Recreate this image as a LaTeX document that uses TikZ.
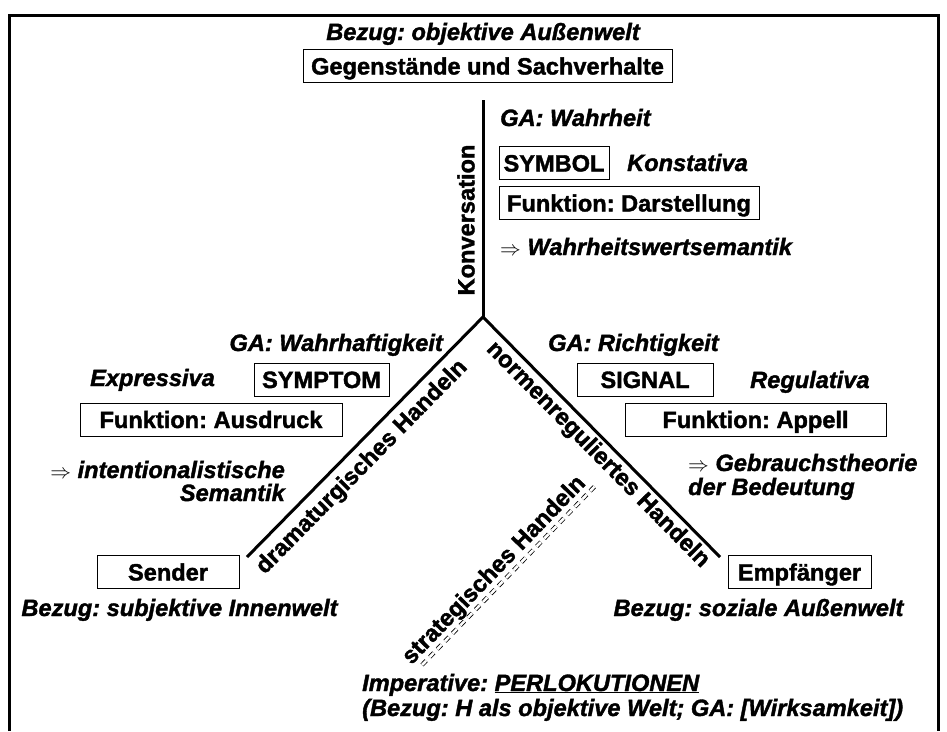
\documentclass[tikz,border=0pt]{standalone}
\usepackage{fontspec}
\setmainfont{Liberation Sans}[BoldFeatures={FakeBold=1.6},BoldItalicFeatures={FakeBold=1.6}]
\frenchspacing
\newcommand{\impl}{{\fontsize{22}{24}\selectfont$\Rightarrow$}}
\tikzset{
  txt/.style={inner sep=0pt, font=\fontsize{23.6}{26}\selectfont\bfseries\itshape},
  upr/.style={inner sep=0pt, font=\fontsize{23.6}{26}\selectfont\bfseries},
  box/.style={draw, line width=0.9pt, inner sep=0pt,
    font=\fontsize{23.6}{26}\selectfont\bfseries,
    text height=17pt, text depth=0pt, minimum height=33pt},
  heavy/.style={line width=3pt},
  along/.style={upr, sloped, inner sep=2pt},
  strichel/.style={line width=0.8pt, double, double distance=2.6pt,
    dash pattern=on 6pt off 5pt},
}
\begin{document}
\begin{tikzpicture}[x=1pt,y=-1pt]
\useasboundingbox (0,0) rectangle (947,731);
\fill[white] (0,0) rectangle (947,731);

% frame
\draw[heavy, line join=miter] (9,731) -- (9,15) -- (938,15) -- (938,731);

% the three axes of communicative action
\coordinate (top) at (483,100);
\coordinate (hub) at (483,317);
\coordinate (sendend) at (247,557);
\coordinate (empfend) at (720,557);
\draw[heavy] (top) -- (hub);
\draw[heavy, line join=miter] (sendend) -- (hub) -- (empfend);
\path (sendend) -- node[along, below, pos=0.43, inner sep=8pt] (dram) {dramaturgisches Handeln} (hub);
\path (hub) -- node[along, below, pos=0.53, inner sep=4pt] (norm) {normenreguliertes Handeln} (empfend);
\node[upr, rotate=90] (konv) at (466,220) {Konversation};

% strategic action (dashed)
\coordinate (s1) at (422,665);
\coordinate (s2) at (597,484);
\draw[strichel] (s1) -- node[along, above, pos=0.47] (strat) {strategisches Handeln} (s2);

% top: objective world
\node[txt, anchor=base] (worldref) at (483,40) {Bezug: objektive Außenwelt};
\node[box, minimum width=369pt] (world) at (487.5,66) {Gegenstände und Sachverhalte};
\node[txt, anchor=base west] (gawahr) at (500,126) {GA: Wahrheit};
\node[box, minimum width=110pt] (symbol) at (554,163) {SYMBOL};
\node[txt, anchor=base west] (konst) at (627,171) {Konstativa};
\node[box, minimum width=260pt] (darst) at (629,203) {Funktion: Darstellung};
\node[txt, anchor=base west] (wws) at (500,255) {\impl\ Wahrheitswertsemantik};

% left: speaker
\node[txt, anchor=base east] (gawhh) at (443,351) {GA: Wahrhaftigkeit};
\node[txt, anchor=base west] (expr) at (90,386) {Expressiva};
\node[box, minimum width=135pt] (symptom) at (321.5,379.5) {SYMPTOM};
\node[box, minimum width=262pt] (ausdr) at (211,419.5) {Funktion: Ausdruck};
\node[txt, anchor=base east] (intent) at (285,478) {\impl\ intentionalistische};
\node[txt, anchor=base east] (sem) at (285,501) {Semantik};
\node[box, minimum width=142pt] (sender) at (168,572) {Sender};
\node[txt, anchor=base] (senderref) at (179.5,616) {Bezug: subjektive Innenwelt};

% right: hearer
\node[txt, anchor=base west] (garicht) at (548,351) {GA: Richtigkeit};
\node[box, minimum width=136pt] (signal) at (645,379.5) {SIGNAL};
\node[txt, anchor=base west] (regul) at (750,388) {Regulativa};
\node[box, minimum width=261pt] (appell) at (755.5,419.5) {Funktion: Appell};
\node[txt, anchor=base west] (gebr) at (688,471) {\impl\ Gebrauchstheorie};
\node[txt, anchor=base west] (bed) at (688,495) {der Bedeutung};
\node[box, minimum width=143pt] (empf) at (799.5,572) {Empfänger};
\node[txt, anchor=base] (empfref) at (758.5,616) {Bezug: soziale Außenwelt};

% bottom: perlocutions
\node[txt, anchor=base west] (imp) at (362,691) {Imperative: \underline{PERLOKUTIONEN}};
\node[txt, anchor=base west] (impref) at (362,716) {(Bezug: H als objektive Welt; GA: [Wirksamkeit])};
\end{tikzpicture}
\end{document}
